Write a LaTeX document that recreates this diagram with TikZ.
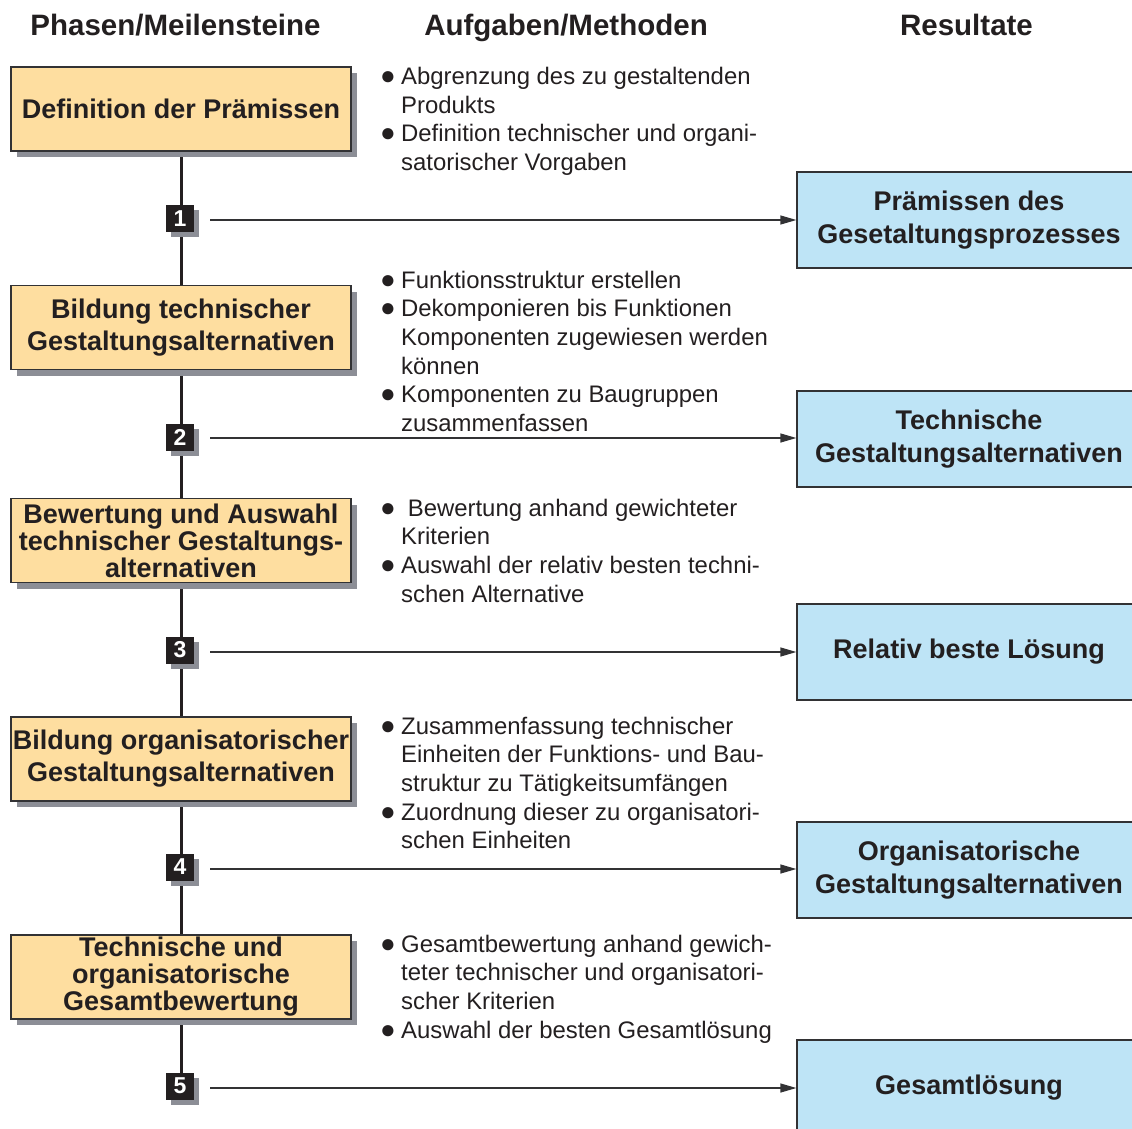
\documentclass[tikz,border=0pt]{standalone}
\usepackage{fontspec}
\setmainfont{Liberation Sans}
\usetikzlibrary{shadows,backgrounds,arrows.meta}

\definecolor{ink}{RGB}{35,31,32}
\definecolor{edge}{RGB}{50,50,52}
\definecolor{phasefill}{RGB}{254,222,160}
\definecolor{resultfill}{RGB}{190,228,246}
\definecolor{shade}{RGB}{140,142,150}

% bullet and hanging indent for the task lists
\newcommand\itm{\makebox[21pt][l]{\fontsize{26}{26}\selectfont\raisebox{0pt}{●}}}
\newcommand\ind{\hspace*{21pt}}

\begin{document}
\begin{tikzpicture}[x=1pt,y=-1pt,
  head/.style={anchor=base, inner sep=0pt, text=ink,
    font=\bfseries\fontsize{29.5}{34}\selectfont},
  phase/.style={draw=edge, line width=1.3pt, fill=phasefill,
    minimum width=340pt, minimum height=84pt, inner sep=0pt,
    align=center, text=ink, font=\bfseries\fontsize{27}{32}\selectfont,
    drop shadow={shadow xshift=6pt, shadow yshift=-6pt, fill=shade, opacity=1}},
  tight/.style={font=\bfseries\fontsize{27}{27}\selectfont},
  result/.style={draw=edge, line width=1.3pt, fill=resultfill,
    minimum width=344pt, minimum height=96pt, inner sep=0pt,
    align=center, text=ink, font=\bfseries\fontsize{27}{33}\selectfont},
  milestone/.style={fill=ink, minimum width=28pt, minimum height=27pt,
    inner sep=0pt, text=white, font=\bfseries\fontsize{23}{23}\selectfont,
    drop shadow={shadow xshift=5pt, shadow yshift=-5pt, fill=shade, opacity=1}},
  tasks/.style={anchor=base west, inner sep=0pt, text=ink,
    font=\fontsize{23.9}{28.7}\selectfont},
  spine/.style={draw=ink, line width=3pt},
  link/.style={draw=edge, line width=1.3pt,
    -{Triangle[length=16pt,width=9pt]}}
]
\useasboundingbox (0,0) rectangle (1132,1129);
\clip (0,0) rectangle (1132,1129);

% column headings
\node[head] (h1) at (175.5,36) {Phasen/Meilensteine};
\node[head] (h2) at (566,36) {Aufgaben/Methoden};
\node[head] (h3) at (966.5,36) {Resultate};

% phases
\node[phase] (p1) at (181,109) {Definition der Prämissen};
\node[phase] (p2) at (181,327.5) {Bildung technischer\\Gestaltungsalternativen};
\node[phase,tight] (p3) at (181,540.5) {Bewertung und Auswahl\\technischer Gestaltungs-\\alternativen};
\node[phase] (p4) at (181,759) {Bildung organisatorischer\\Gestaltungsalternativen};
\node[phase,tight] (p5) at (181,977) {Technische und\\organisatorische\\Gesamtbewertung};

% milestones
\node[milestone] (m1) at (180,218.5) {1};
\node[milestone] (m2) at (180,437) {2};
\node[milestone] (m3) at (180,650) {3};
\node[milestone] (m4) at (180,867) {4};
\node[milestone] (m5) at (180,1086) {5};

% spine through phases and milestones
\begin{scope}[on background layer]
  \draw[spine] (p1.south) -- (p2.north);
  \draw[spine] (p2.south) -- (p3.north);
  \draw[spine] (p3.south) -- (p4.north);
  \draw[spine] (p4.south) -- (p5.north);
  \draw[spine] (p5.south) -- (p5.south |- m5.center);
\end{scope}

% results
\node[result] (r1) at (969,220) {Prämissen des\\Gesetaltungsprozesses};
\node[result] (r2) at (969,439) {Technische\\Gestaltungsalternativen};
\node[result] (r3) at (969,652) {Relativ beste Lösung};
\node[result] (r4) at (969,870) {Organisatorische\\Gestaltungsalternativen};
\node[result] (r5) at (969,1088) {Gesamtlösung};

% milestone arrows
\coordinate (a1) at (210,220);
\coordinate (a2) at (210,438);
\coordinate (a3) at (210,652);
\coordinate (a4) at (210,869);
\coordinate (a5) at (210,1088);
\draw[link] (a1) -- (a1 -| r1.west);
\draw[link] (a2) -- (a2 -| r2.west);
\draw[link] (a3) -- (a3 -| r3.west);
\draw[link] (a4) -- (a4 -| r4.west);
\draw[link] (a5) -- (a5 -| r5.west);

% tasks and methods
\node[tasks] (t1) at (380,84.5) {\parbox[t]{400pt}{%
  \itm Abgrenzung des zu gestaltenden\\
  \ind Produkts\\
  \itm Definition technischer und organi-\\
  \ind satorischer Vorgaben}};
\node[tasks] (t2) at (380,288) {\parbox[t]{400pt}{%
  \itm Funktionsstruktur erstellen\\
  \itm Dekomponieren bis Funktionen\\
  \ind Komponenten zugewiesen werden\\
  \ind können\\
  \itm Komponenten zu Baugruppen\\
  \ind zusammenfassen}};
\node[tasks] (t3) at (380,516) {\parbox[t]{400pt}{%
  \itm\ Bewertung anhand gewichteter\\
  \ind Kriterien\\
  \itm Auswahl der relativ besten techni-\\
  \ind schen Alternative}};
\node[tasks] (t4) at (380,734) {\parbox[t]{400pt}{%
  \itm Zusammenfassung technischer\\
  \ind Einheiten der Funktions- und Bau-\\
  \ind struktur zu Tätigkeitsumfängen\\
  \itm Zuordnung dieser zu organisatori-\\
  \ind schen Einheiten}};
\node[tasks] (t5) at (380,952) {\parbox[t]{400pt}{%
  \itm Gesamtbewertung anhand gewich-\\
  \ind teter technischer und organisatori-\\
  \ind scher Kriterien\\
  \itm Auswahl der besten Gesamtlösung}};
\end{tikzpicture}
\end{document}
